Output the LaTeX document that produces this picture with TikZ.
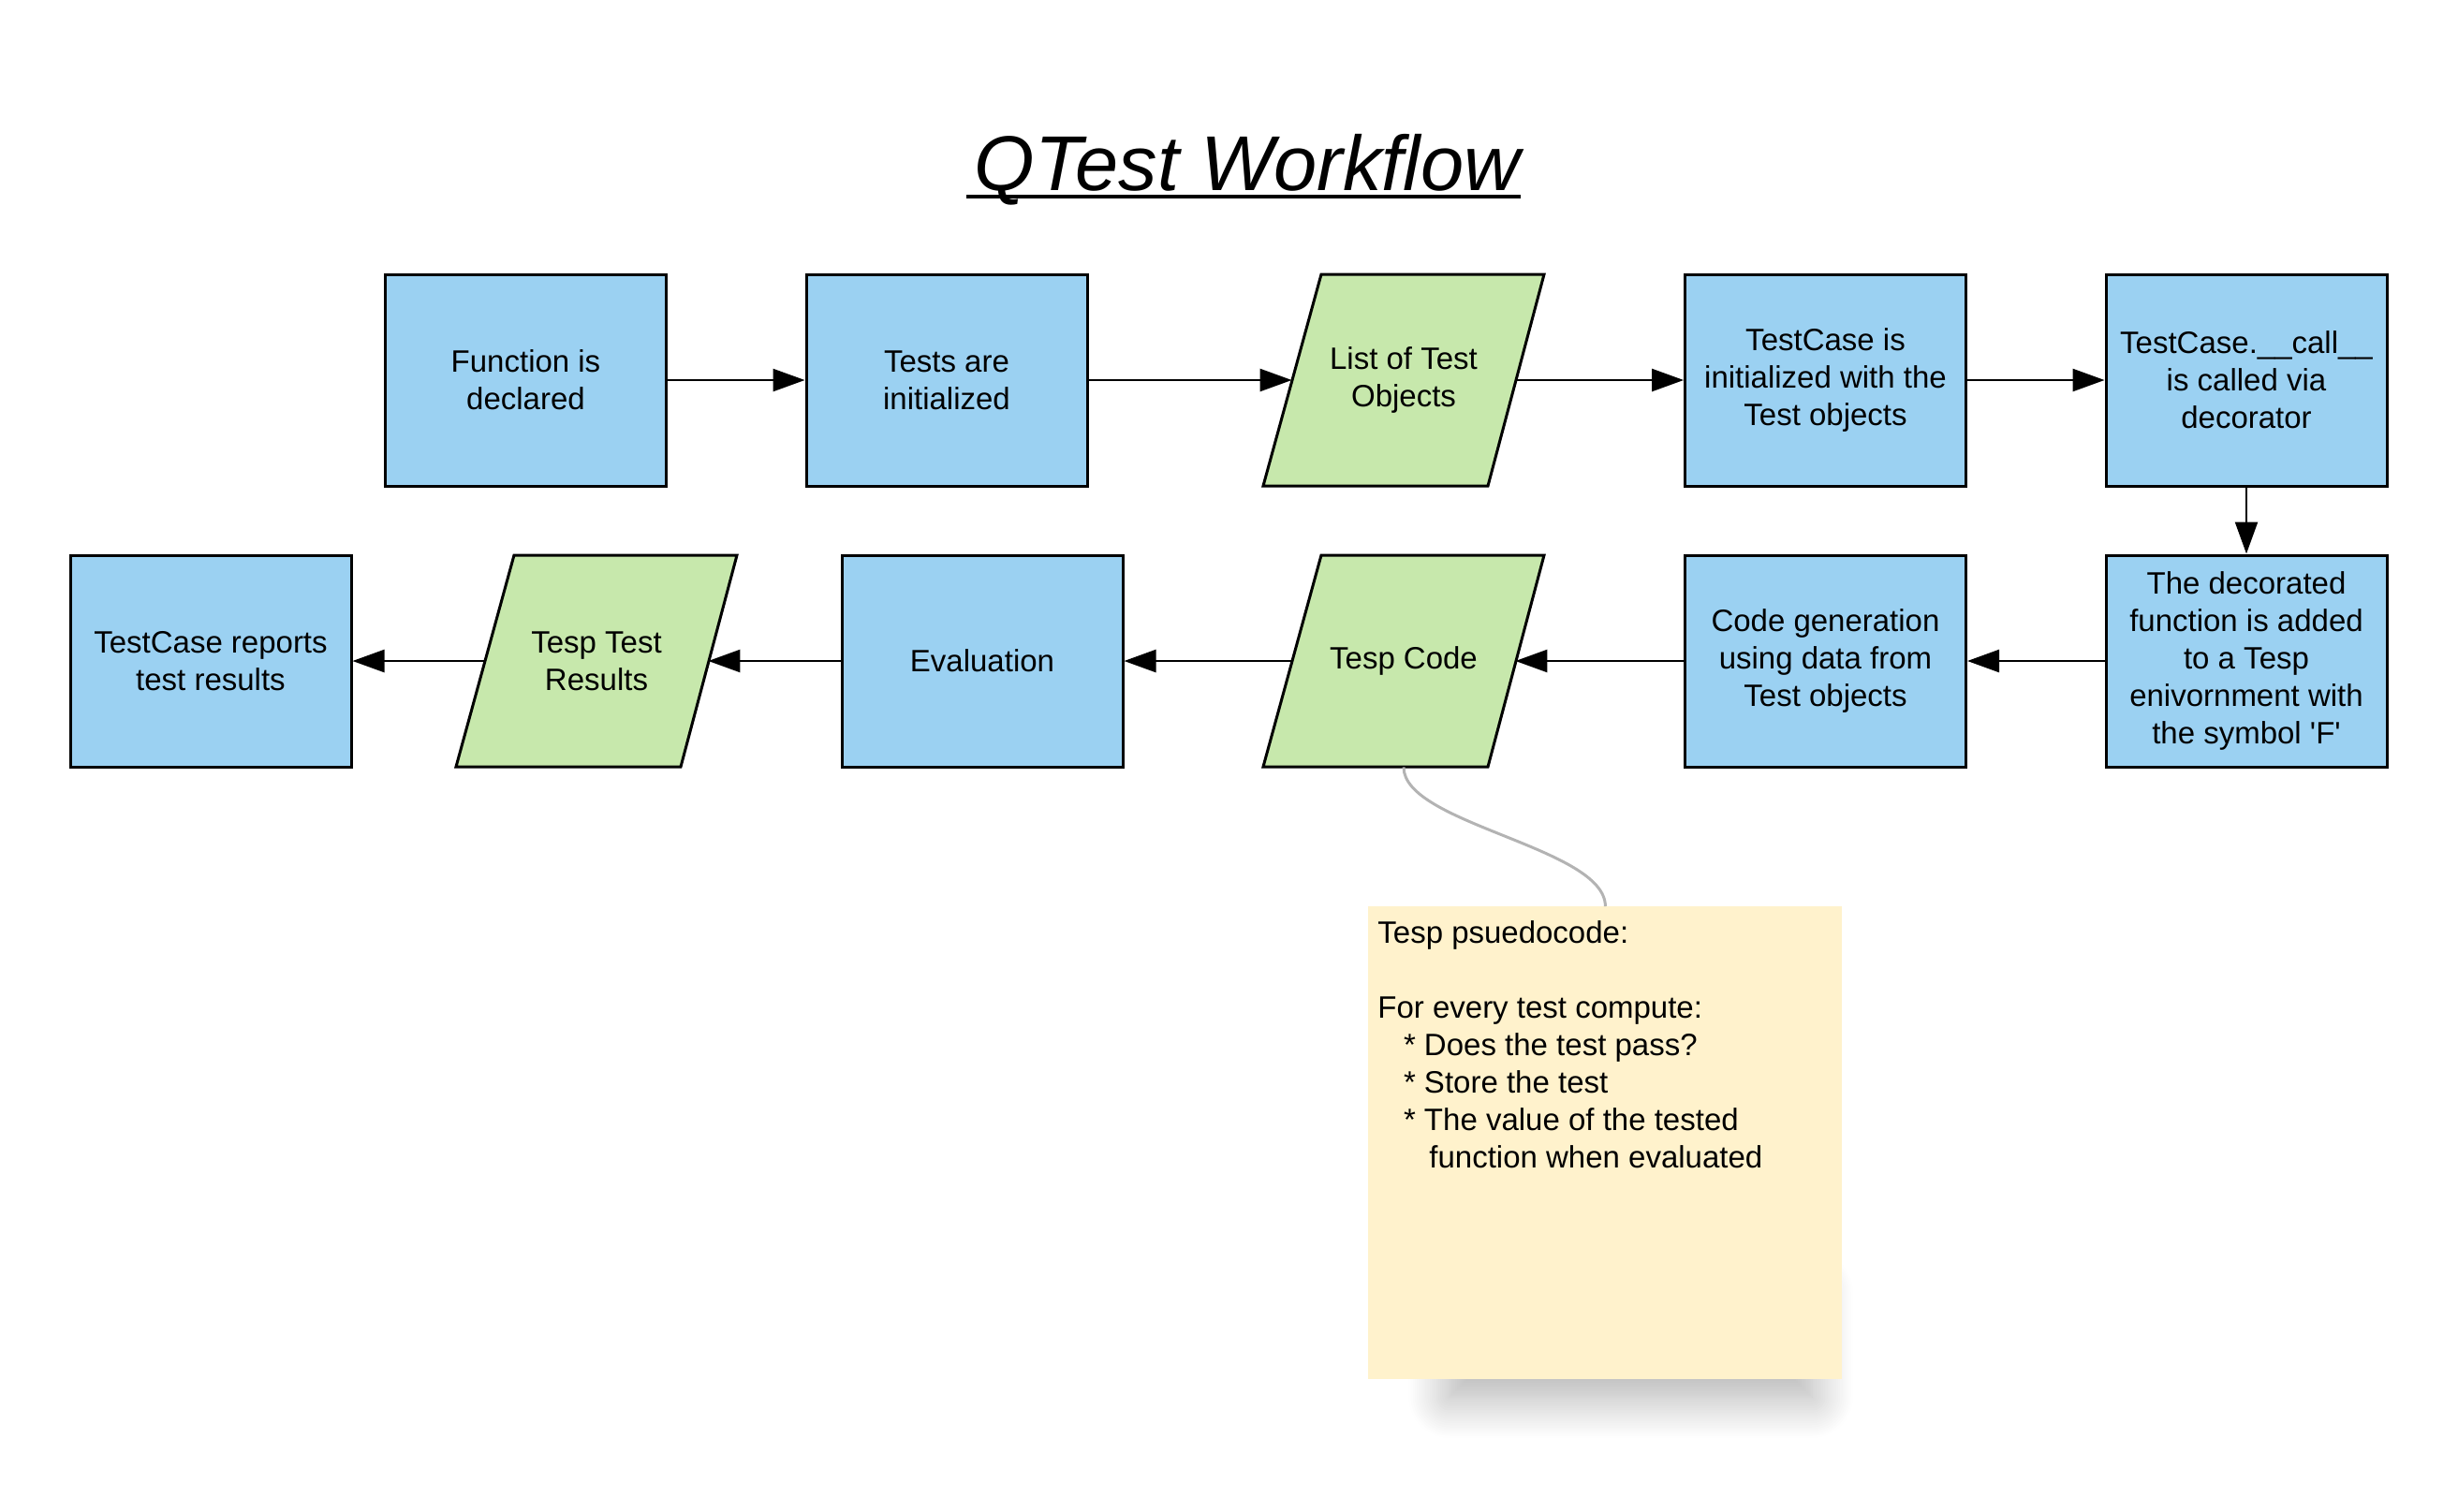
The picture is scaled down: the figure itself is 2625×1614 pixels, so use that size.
\documentclass[tikz,border=0pt]{standalone}
\usepackage{fontspec}
\setmainfont{Liberation Sans}
\usetikzlibrary{arrows.meta,shadows.blur}
\definecolor{boxblue}{RGB}{155,209,242}
\definecolor{paragreen}{RGB}{199,232,172}
\definecolor{noteyellow}{RGB}{255,242,204}
\definecolor{linkgray}{RGB}{179,179,179}
\tikzset{
  boxtext/.style={font=\fontsize{16.5}{20}\selectfont, align=center, inner sep=0pt},
  boxnode/.style={boxtext, draw=black, line width=1.5pt, fill=boxblue, minimum width=150pt, minimum height=113pt},
  paranode/.style={boxtext, minimum width=150pt, minimum height=113pt},
  paraline/.style={draw=black, line width=1.5pt, fill=paragreen, line join=miter},
  parashape/.pic={\path[paraline] (-88,-113) -- (150,-113) -- (90,113) -- (-150,113) -- cycle;},
  flow/.style={line width=1.2pt, -{Triangle[length=17pt,width=12pt]}},
  notelink/.style={draw=linkgray, line width=1.5pt},
  notebox/.style={fill=noteyellow, minimum width=253pt, minimum height=252.5pt, inner sep=0pt},
  notetextstyle/.style={font=\fontsize{16.5}{20}\selectfont, align=left, inner sep=0pt}
}
\begin{document}
\begin{tikzpicture}[x=0.5pt, y=-0.5pt]
\useasboundingbox (0,0) rectangle (2625,1614);

% title
\node (title) [anchor=base, inner sep=0pt, font=\fontsize{41.5}{48}\selectfont\itshape] at (1332,203) {QTest Workflow};
\draw[line width=2.2pt] ([xshift=-4pt,yshift=-3.5pt]title.base west) -- ([yshift=-3.5pt]title.base east);

% parallelogram faces
\pic at (1499,406) {parashape};
\pic at (1499,706) {parashape};
\pic at (637,706) {parashape};

% row 1
\node (b1) [boxnode] at (561.5,406) {Function is\\declared};
\node (b2) [boxnode] at (1011,406) {Tests are\\initialized};
\node (p1) [paranode] at (1499,406) {List of Test\\Objects};
\node (b4) [boxnode] at (1949.5,406) {TestCase is\\initialized with the\\Test objects};
\node (b5) [boxnode] at (2399,406) {TestCase.\_\_call\_\_\\is called via\\decorator};

% row 2
\node (b6) [boxnode] at (2399,706) {The decorated\\function is added\\to a Tesp\\enivornment with\\the symbol \textquotesingle F\textquotesingle};
\node (b7) [boxnode] at (1949.5,706) {Code generation\\using data from\\Test objects};
\node (p2) [paranode] at (1499,706) {Tesp Code};
\node (b8) [boxnode] at (1049,706) {Evaluation};
\node (p3) [paranode] at (637,706) {Tesp Test\\Results};
\node (b9) [boxnode] at (225,706) {TestCase reports\\test results};

\coordinate (p1L) at ([xshift=15.5pt]p1.west);
\coordinate (p1R) at ([xshift=-15.5pt]p1.east);
\coordinate (p2L) at ([xshift=15.5pt]p2.west);
\coordinate (p2R) at ([xshift=-15.5pt]p2.east);
\coordinate (p3L) at ([xshift=15.5pt]p3.west);
\coordinate (p3R) at ([xshift=-15.5pt]p3.east);

% connectors
\draw[flow] (b1.east) -- (b2.west);
\draw[flow] (b2.east) -- (p1L);
\draw[flow] (p1R) -- (b4.west);
\draw[flow] (b4.east) -- (b5.west);
\draw[flow] (b5.south) -- (b6.north);
\draw[flow] (b6.west) -- (b7.east);
\draw[flow] (b7.west) -- (p2R);
\draw[flow] (p2L) -- (b8.east);
\draw[flow] (b8.west) -- (p3R);
\draw[flow] (p3L) -- (b9.east);

% note
\path[blur shadow={shadow xshift=0pt, shadow yshift=0pt, shadow blur radius=22pt, shadow blur steps=20, shadow opacity=32}] (1548,1380) rectangle (1935,1492);
\node (note) [notebox, anchor=north west] at (1461,968) {};
\node (notetext) [notetextstyle, anchor=north west] at (1471,983) {Tesp psuedocode:\\[20pt]For every test compute:\\\hspace*{13.8pt}* Does the test pass?\\\hspace*{13.8pt}* Store the test\\\hspace*{13.8pt}* The value of the tested\\\hspace*{27.5pt}function when evaluated};
\draw[notelink] (p2.south) .. controls +(0,61) and +(0,-63) .. (note.north);
\end{tikzpicture}
\end{document}
